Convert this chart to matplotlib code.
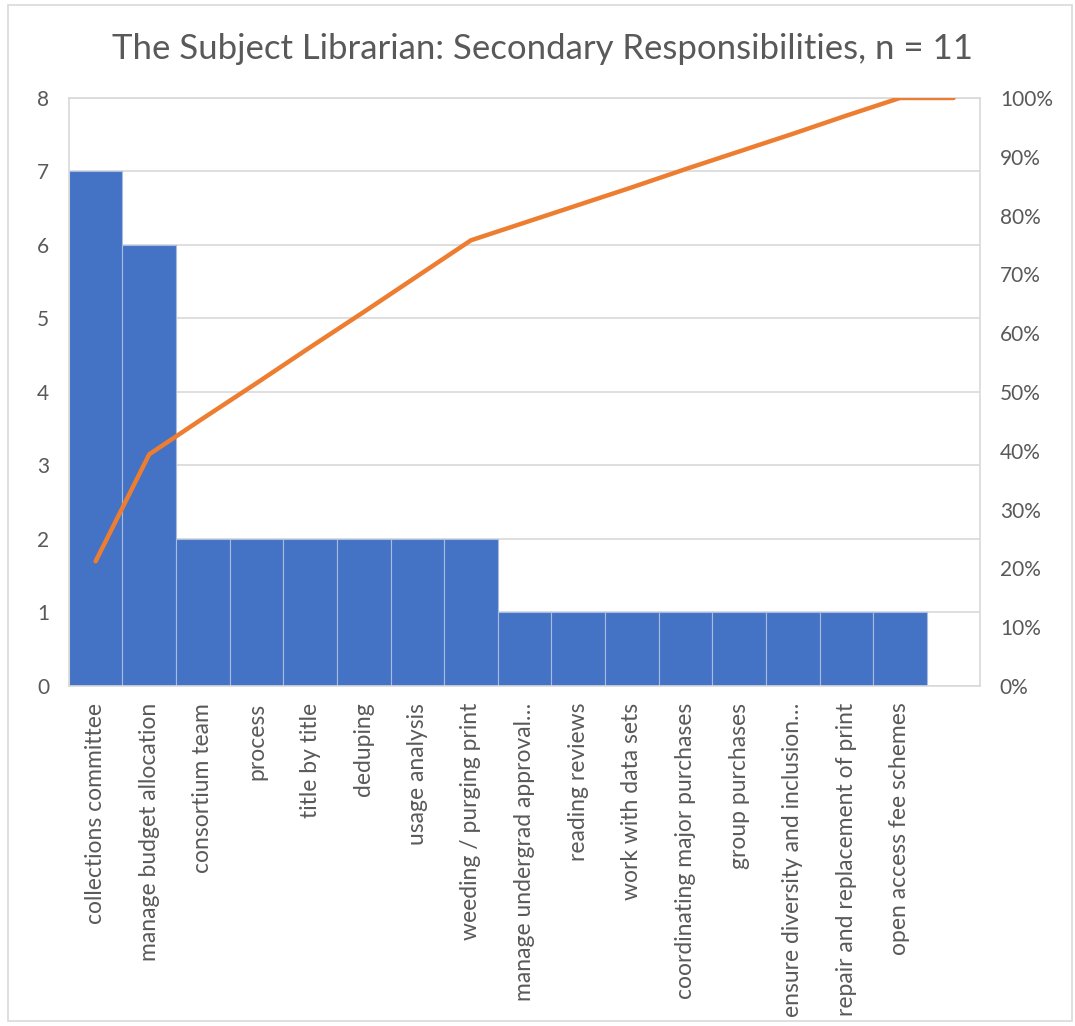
import matplotlib.pyplot as plt
from matplotlib.patches import Rectangle

# categories (last slot is empty, as in the Excel pareto)
categories = ['collections committee', 'manage budget allocation', 'consortium team',
              'process', 'title by title', 'deduping', 'usage analysis',
              'weeding / purging print', 'manage undergrad approval…', 'reading reviews',
              'work with data sets', 'coordinating major purchases', 'group purchases',
              'ensure diversity and inclusion…', 'repair and replacement of print',
              'open access fee schemes', '']
counts = [7, 6, 2, 2, 2, 2, 2, 2, 1, 1, 1, 1, 1, 1, 1, 1, 0]
cum_pct = [21.2, 39.4, 45.5, 51.5, 57.6, 63.6, 69.7, 75.8, 78.8, 81.8,
           84.8, 87.9, 90.9, 93.9, 97.0, 100.0, 100.0]

left_ticks = [0, 1, 2, 3, 4, 5, 6, 7, 8]
right_ticks = [0, 10, 20, 30, 40, 50, 60, 70, 80, 90, 100]

plt.rcParams['font.family'] = ['Lato', 'DejaVu Sans']
gray_txt = '#595959'
grid_c = '#D9D9D9'

fig = plt.figure(figsize=(10.75, 10.26), dpi=100)
ax = fig.add_axes([0.064, 0.3314, 0.848, 0.5731])

x = list(range(len(categories)))
ax.bar(x, counts, width=1.0, color='#4472C4', edgecolor='#A9BCE0', linewidth=0.8, zorder=2)
ax.set_xlim(-0.5, len(categories) - 0.5)
ax.set_ylim(0, 8)
ax.set_yticks(left_ticks)
ax.set_yticklabels([str(t) for t in left_ticks], fontsize=15, color=gray_txt)
ax.set_xticks(x)
ax.set_xticklabels(categories, rotation=90, fontsize=16.5, color=gray_txt)
ax.tick_params(length=0, pad=12)
ax.tick_params(axis='y', pad=14)
ax.grid(axis='y', color=grid_c, linewidth=1.2, zorder=0)
ax.set_axisbelow(True)
for s in ax.spines.values():
    s.set_color(grid_c)
    s.set_linewidth(1.2)

ax2 = ax.twinx()
ax2.plot(x, cum_pct, color='#ED7D31', linewidth=3.2, solid_capstyle='round', zorder=3)
ax2.set_ylim(0, 100)
ax2.set_yticks(right_ticks)
ax2.set_yticklabels([f'{t}%' for t in right_ticks], fontsize=15, color=gray_txt)
ax2.tick_params(length=0, pad=14)
for s in ax2.spines.values():
    s.set_visible(False)

fig.suptitle('The Subject Librarian: Secondary Responsibilities, n = 11',
             fontsize=25, color=gray_txt, x=0.505, y=0.968)

fig.patches.append(Rectangle((0.007, 0.005), 0.99, 0.99, transform=fig.transFigure,
                             fill=False, edgecolor=grid_c, linewidth=1.2))

fig.savefig('out.png', dpi=100)
